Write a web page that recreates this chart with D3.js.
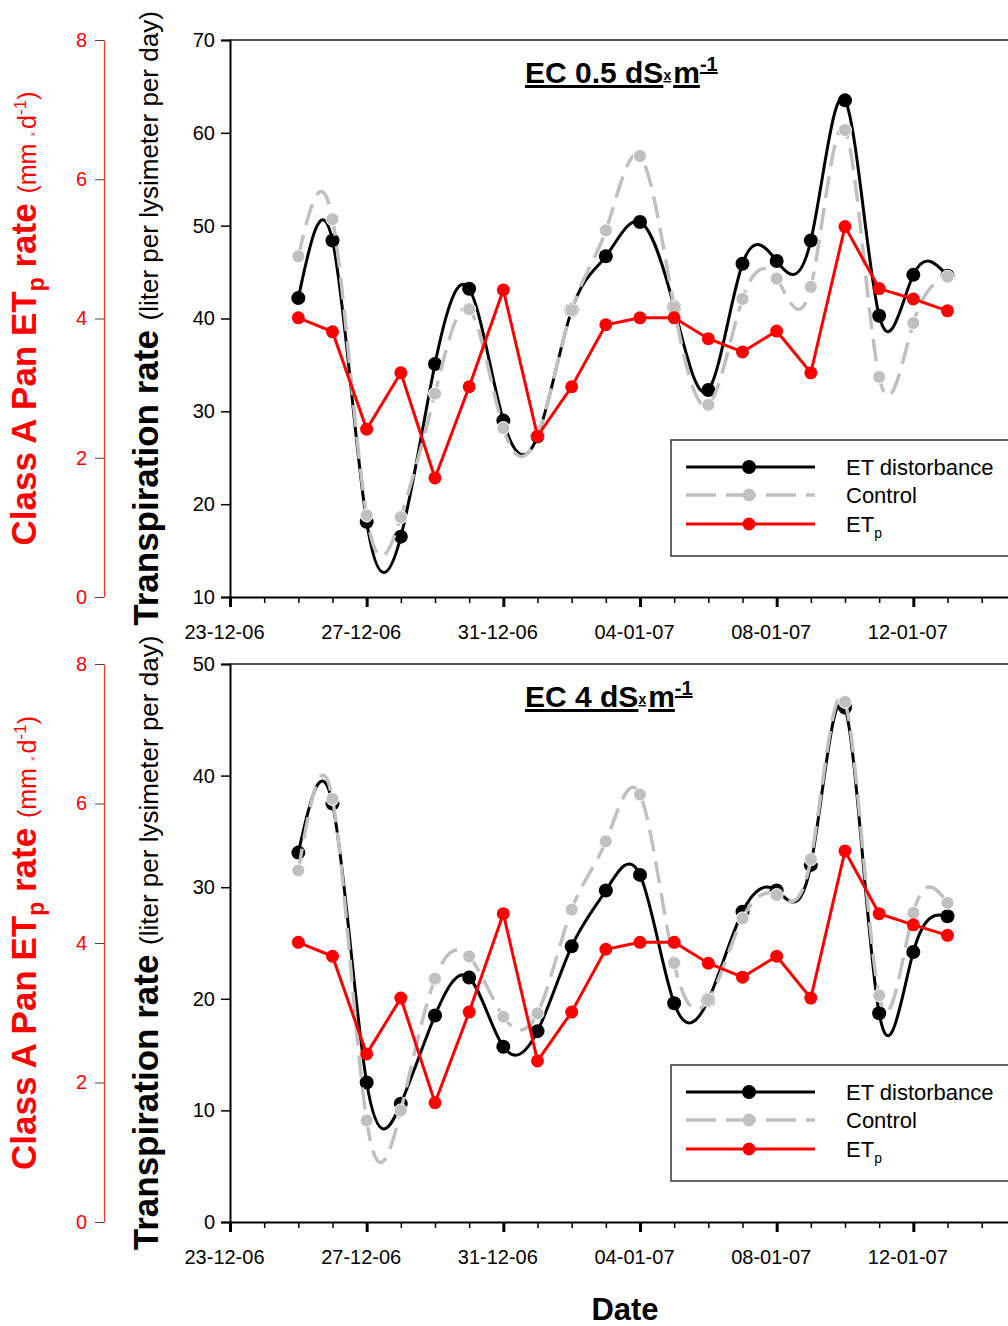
<!DOCTYPE html>
<html>
<head>
<meta charset="utf-8">
<script src="https://cdn.jsdelivr.net/npm/d3@7"></script>
<style>
  html, body { margin: 0; padding: 0; background: #fff; }
  svg { display: block; font-family: "Liberation Sans", Arial, sans-serif; }
</style>
</head>
<body>
<svg id="chart" width="1008" height="1326"></svg>
<script>
// ---------------- DATA ----------------
const dates = ["2006-12-25","2006-12-26","2006-12-27","2006-12-28","2006-12-29","2006-12-30","2006-12-31",
  "2007-01-01","2007-01-02","2007-01-03","2007-01-04","2007-01-05","2007-01-06","2007-01-07",
  "2007-01-08","2007-01-09","2007-01-10","2007-01-11","2007-01-12","2007-01-13"];

// EC 0.5 dS m-1 panel (liter per lysimeter per day)
const topDisturbance = [42.2,48.4,18.1,16.5,35.1,43.2,29.0,27.3,40.9,46.7,50.4,41.2,32.3,45.9,46.2,48.4,63.5,40.3,44.7,44.6];
const topControl     = [46.7,50.7,18.8,18.6,31.9,41.0,28.2,27.4,40.9,49.5,57.5,41.2,30.7,42.1,44.3,43.4,60.3,33.7,39.5,44.5];
const topEtp         = [4.01,3.81,2.41,3.22,1.71,3.02,4.41,2.31,3.02,3.91,4.01,4.01,3.71,3.52,3.82,3.22,5.32,4.43,4.28,4.11];

// EC 4 dS m-1 panel
const botDisturbance = [33.1,37.5,12.5,10.6,18.5,21.9,15.7,17.1,24.7,29.7,31.1,19.6,19.9,27.8,29.7,32.0,46.1,18.7,24.2,27.4];
const botControl     = [31.5,37.9,9.1,10.0,21.8,23.8,18.4,18.7,28.0,34.1,38.3,23.2,19.9,27.2,29.3,32.5,46.6,20.3,27.7,28.6];
const botEtp         = [4.01,3.81,2.41,3.21,1.71,3.01,4.42,2.31,3.01,3.91,4.01,4.01,3.71,3.51,3.81,3.21,5.32,4.42,4.26,4.11];

const topLeftTicks  = [10,20,30,40,50,60,70];
const botLeftTicks  = [0,10,20,30,40,50];
const rightTicks    = [0,2,4,6,8];
const xTickLabels   = ["2006-12-23","2006-12-27","2006-12-31","2007-01-04","2007-01-08","2007-01-12"];
const seriesNames   = ["ET distorbance","Control","ET"];

// ---------------- LAYOUT ----------------
const svg = d3.select("#chart");
const parse = d3.timeParse("%Y-%m-%d");
const dayList = dates.map(parse);
const majorDays = xTickLabels.map(parse);
const xStart = parse("2006-12-23"), xEnd = parse("2007-01-16");
const x = d3.scaleTime().domain([xStart, xEnd]).range([230, 1050]);

const GRAY = "#c0c0c0", RED = "#ff0000";
const FONT = "Liberation Sans, Arial, sans-serif";

function drawPanel(cfg) {
  const g = svg.append("g");
  const y = d3.scaleLinear().domain(cfg.yDomain).range([cfg.bottom, cfg.top]);
  const yr = d3.scaleLinear().domain([0, 8]).range([cfg.bottom, cfg.top]);

  // top frame line
  g.append("line").attr("x1", 230).attr("x2", 1060).attr("y1", cfg.top).attr("y2", cfg.top)
    .attr("stroke", "#222").attr("stroke-width", 1.5);

  // x axis minor
  const minor = g.append("g").attr("transform", `translate(0,${cfg.bottom})`)
    .call(d3.axisBottom(x).tickValues(d3.timeDay.range(xStart, d3.timeDay.offset(xEnd, 1))).tickSize(6).tickFormat(""));
  minor.select(".domain").attr("stroke", "#000").attr("stroke-width", 2);
  minor.selectAll(".tick line").attr("stroke", "#000").attr("stroke-width", 1.5);
  // x axis major (visible part)
  const major = g.append("g").attr("transform", `translate(0,${cfg.bottom})`)
    .call(d3.axisBottom(x).tickValues(majorDays)
      .tickSize(10).tickPadding(18).tickFormat(d3.timeFormat("%d-%m-%y")));
  major.select(".domain").remove();
  major.selectAll(".tick line").attr("stroke", "#000").attr("stroke-width", 3);
  major.selectAll(".tick text").attr("font-size", 20).attr("fill", "#000")
    .attr("font-family", FONT).attr("dx", -6);

  // left y axis
  const ly = g.append("g").attr("transform", "translate(230,0)")
    .call(d3.axisLeft(y).tickValues(cfg.leftTicks).tickSize(9).tickPadding(6));
  ly.select(".domain").attr("stroke", "#000").attr("stroke-width", 2);
  ly.selectAll(".tick line").attr("stroke", "#000").attr("stroke-width", 1.5);
  ly.selectAll(".tick text").attr("font-size", 20).attr("fill", "#000").attr("font-family", FONT);

  // red (ETp) axis
  const ry = g.append("g").attr("transform", "translate(104,0)")
    .call(d3.axisLeft(yr).tickValues(rightTicks).tickSize(9).tickPadding(8).tickSizeOuter(0));
  ry.select(".domain").attr("stroke", "#ff3030").attr("stroke-width", 1.2);
  ry.selectAll(".tick line").attr("stroke", "#444").attr("stroke-width", 1);
  ry.selectAll(".tick text").attr("font-size", 20).attr("fill", RED).attr("font-family", FONT);

  const mid = (cfg.top + cfg.bottom) / 2;

  // left black title
  const t1 = g.append("text").attr("transform", `translate(158,${mid}) rotate(-90)`)
    .attr("text-anchor", "middle").attr("fill", "#000");
  t1.append("tspan").attr("font-size", 35).attr("font-weight", "bold").text("Transpiration rate ");
  t1.append("tspan").attr("font-size", 26).text("(liter per lysimeter per day)");

  // red title
  const t2 = g.append("text").attr("transform", `translate(36,${mid}) rotate(-90)`)
    .attr("text-anchor", "middle").attr("fill", RED);
  t2.append("tspan").attr("font-size", 35).attr("font-weight", "bold").text("Class A Pan ET");
  t2.append("tspan").attr("font-size", 23).attr("font-weight", "bold").attr("dy", 8).text("p");
  t2.append("tspan").attr("font-size", 35).attr("font-weight", "bold").attr("dy", -8).text(" rate ");
  t2.append("tspan").attr("font-size", 25).text("(mm ");
  t2.append("tspan").attr("font-size", 9).text("× ");
  t2.append("tspan").attr("font-size", 25).text("d");
  t2.append("tspan").attr("font-size", 17).attr("dy", -10).text("-1");
  t2.append("tspan").attr("font-size", 25).attr("dy", 10).text(")");

  // panel title
  const tt = g.append("text").attr("x", 525).attr("y", cfg.top + 43)
    .attr("font-weight", "bold").attr("fill", "#000").attr("text-decoration", "underline");
  tt.append("tspan").attr("font-size", 30).text(cfg.title);
  tt.append("tspan").attr("font-size", 14).attr("dy", -3).text("x");
  tt.append("tspan").attr("font-size", 30).attr("dy", 3).attr("dx", 2).text("m");
  tt.append("tspan").attr("font-size", 20).attr("dy", -12).text("-1");

  // lines
  const lineL = d3.line().x((d, i) => x(dayList[i])).y(d => y(d)).curve(d3.curveNatural);
  const lineR = d3.line().x((d, i) => x(dayList[i])).y(d => yr(d));

  // disturbance
  g.append("path").attr("d", lineL(cfg.dist)).attr("fill", "none").attr("stroke", "#000").attr("stroke-width", 3);
  g.selectAll(".pd").data(cfg.dist).join("circle")
    .attr("cx", (d, i) => x(dayList[i])).attr("cy", d => y(d)).attr("r", 7).attr("fill", "#000");
  // control
  g.append("path").attr("d", lineL(cfg.ctrl)).attr("fill", "none").attr("stroke", GRAY)
    .attr("stroke-width", 3.5).attr("stroke-dasharray", "22,10");
  g.selectAll(".pc").data(cfg.ctrl).join("circle")
    .attr("cx", (d, i) => x(dayList[i])).attr("cy", d => y(d)).attr("r", 6.5).attr("fill", GRAY)
    .attr("stroke", "#fff").attr("stroke-width", 1);
  // ETp
  g.append("path").attr("d", lineR(cfg.etp)).attr("fill", "none").attr("stroke", RED).attr("stroke-width", 3);
  g.selectAll(".pe").data(cfg.etp).join("circle")
    .attr("cx", (d, i) => x(dayList[i])).attr("cy", d => yr(d)).attr("r", 6.5).attr("fill", RED);

  // legend
  const lg = g.append("g").attr("transform", `translate(671,${cfg.bottom - 157})`);
  lg.append("rect").attr("x", 0).attr("y", 0).attr("width", 400).attr("height", 116)
    .attr("fill", "#fff").attr("stroke", "#333").attr("stroke-width", 1.5);
  const rows = [
    {name: seriesNames[0], color: "#000", dash: null, r: 7, w: 3, y: 27},
    {name: seriesNames[1], color: GRAY, dash: "30,10", r: 6.5, w: 3.5, y: 55},
    {name: seriesNames[2], color: RED, dash: null, r: 6.5, w: 3, y: 84}
  ];
  rows.forEach((r, i) => {
    lg.append("line").attr("x1", 15).attr("x2", 144).attr("y1", r.y).attr("y2", r.y)
      .attr("stroke", r.color).attr("stroke-width", r.w).attr("stroke-dasharray", r.dash);
    lg.append("circle").attr("cx", 78).attr("cy", r.y).attr("r", r.r).attr("fill", r.color);
    const tx = lg.append("text").attr("x", 175).attr("y", r.y + 8).attr("font-size", 22).attr("fill", "#000");
    tx.append("tspan").text(r.name);
    if (i === 2) tx.append("tspan").attr("font-size", 14).attr("dy", 6).text("p");
  });
}

drawPanel({top: 40, bottom: 597, yDomain: [10, 70], leftTicks: topLeftTicks,
  dist: topDisturbance, ctrl: topControl, etp: topEtp, title: "EC 0.5 dS"});
drawPanel({top: 664, bottom: 1222, yDomain: [0, 50], leftTicks: botLeftTicks,
  dist: botDisturbance, ctrl: botControl, etp: botEtp, title: "EC 4 dS"});

svg.append("text").attr("x", 625).attr("y", 1320).attr("text-anchor", "middle")
  .attr("font-size", 31).attr("font-weight", "bold").attr("fill", "#000").text("Date");
</script>
</body>
</html>
